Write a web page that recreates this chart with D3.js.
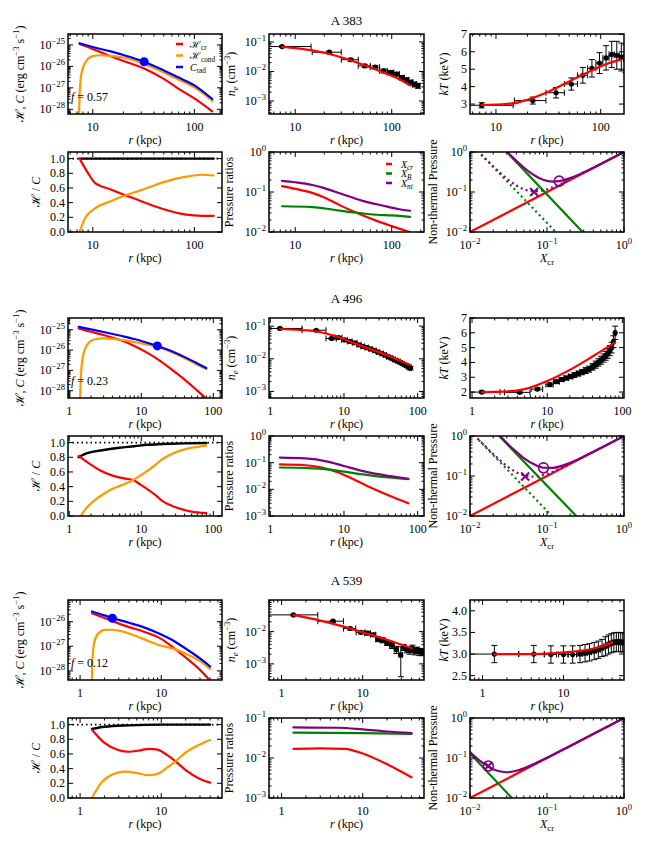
<!DOCTYPE html>
<html><head><meta charset="utf-8">
<script src="https://cdn.jsdelivr.net/npm/d3@7"></script>
<style>body{margin:0;background:#fff}svg{display:block}text{font-family:"Liberation Serif","DejaVu Serif",serif;fill:#000}</style>
</head><body><svg id="c" width="650" height="850"></svg>
<script>
// ===================== DATA =====================
const titles = ["A 383", "A 496", "A 539"];
const fValues = ["0.57", "0.23", "0.12"];

// ---- A 383 ----
const a383_rad_r = [7.4, 10, 15, 20, 32, 50, 70, 100, 150];
const a383_rad = [1.2e-25, 8e-26, 5e-26, 3.4e-26, 1.65e-26, 6.5e-27, 3e-27, 1.3e-27, 3e-28];
const a383_cr_r = [7.4, 10, 15, 20, 32, 50, 70, 100, 150];
const a383_cr = [1.1e-25, 6.5e-26, 3e-26, 1.8e-26, 8e-27, 2.6e-27, 9e-28, 3.2e-28, 8e-29];
const a383_cond_r = [7.25, 7.4, 7.7, 8.5, 10, 12, 15, 20, 32, 50, 70, 100, 150];
const a383_cond = [1e-29, 4e-28, 4e-27, 1.6e-26, 3e-26, 3.3e-26, 3.1e-26, 2.6e-26, 1.3e-26, 5.2e-27, 2.4e-27, 1.05e-27, 2.5e-28];
const a383_dot = [32, 1.65e-26];
const a383_ne_r = [7.3, 22.5, 37.5, 52.5, 67.5, 82.5, 97.5, 112.5, 127.5, 142.5, 157.5, 172.5, 187.5];
const a383_ne = [0.07, 0.045, 0.025, 0.0155, 0.014, 0.0105, 0.0093, 0.0082, 0.0062, 0.0052, 0.0043, 0.0037, 0.0033];
const a383_ne_xerr = [7.3, 7.5, 7.5, 7.5, 7.5, 7.5, 7.5, 7.5, 7.5, 7.5, 7.5, 7.5, 7.5];
const a383_ne_yerr = [0.004, 0.004, 0.003, 0.002, 0.002, 0.0015, 0.0015, 0.0012, 0.001, 0.0009, 0.0008, 0.0007, 0.0006];
const a383_nefit_r = [7.3, 10, 15, 22, 35, 50, 80, 120, 155];
const a383_nefit = [0.068, 0.062, 0.052, 0.04, 0.026, 0.017, 0.0095, 0.0055, 0.0034];
const a383_kt_r = [7.3, 22.5, 37.5, 52.5, 67.5, 82.5, 97.5, 112.5, 127.5, 142.5, 157.5, 172.5, 187.5];
const a383_kt = [2.93, 3.2, 3.65, 4.15, 4.65, 5.05, 5.35, 5.65, 5.85, 5.8, 5.7, 5.6, 5.5];
const a383_kt_xerr = [7.3, 7.5, 7.5, 7.5, 7.5, 7.5, 7.5, 7.5, 7.5, 7.5, 7.5, 7.5, 7.5];
const a383_kt_yerr = [0.15, 0.2, 0.3, 0.35, 0.45, 0.5, 0.6, 0.7, 0.75, 0.8, 0.8, 0.8, 0.7];
const a383_ktfit_r = [7.3, 10, 15, 20, 30, 50, 80, 120, 155];
const a383_ktfit = [2.95, 2.97, 3.05, 3.25, 3.65, 4.3, 4.9, 5.35, 5.55];
const a383_hc_tot_r = [7.4, 155];
const a383_hc_tot = [1.0, 1.0];
const a383_hc_cr_r = [7.4, 9, 10.5, 15, 21, 30, 50, 80, 120, 155];
const a383_hc_cr = [1.0, 0.8, 0.67, 0.58, 0.5, 0.42, 0.31, 0.24, 0.22, 0.22];
const a383_hc_cond_r = [7.4, 8.5, 10, 15, 21, 30, 50, 80, 120, 155];
const a383_hc_cond = [0.0, 0.2, 0.3, 0.42, 0.5, 0.57, 0.68, 0.75, 0.78, 0.77];
const a383_pnt_r = [7.3, 10, 15, 20, 30, 50, 80, 120, 155];
const a383_pnt = [0.19, 0.175, 0.15, 0.125, 0.09, 0.06, 0.046, 0.037, 0.034];
const a383_pcr_r = [7.3, 10, 15, 20, 30, 45, 70, 100, 155];
const a383_pcr = [0.14, 0.12, 0.095, 0.073, 0.045, 0.029, 0.019, 0.014, 0.0098];
const a383_pb_r = [7.3, 15, 25, 40, 70, 100, 155];
const a383_pb = [0.044, 0.042, 0.036, 0.031, 0.027, 0.026, 0.024];
const a383_nt_B_x = [0.03, 0.29];
const a383_nt_B = [1.0, 0.01];
const a383_nt_tot_x = [0.031, 0.035, 0.04, 0.05, 0.06, 0.07, 0.08, 0.1, 0.12, 0.15, 0.2, 0.3, 0.5, 1.0];
const a383_nt_tot = [0.967, 0.77, 0.6, 0.41, 0.31, 0.254, 0.22, 0.19, 0.1825, 0.19, 0.2225, 0.31, 0.5036, 1.0];
const a383_ntd_B_x = [0.014, 0.13];
const a383_ntd_B = [0.86, 0.01];
const a383_ntd_tot_x = [0.014, 0.02, 0.03, 0.04, 0.05, 0.06, 0.07, 0.08, 0.1, 0.15, 0.2];
const a383_ntd_tot = [0.87, 0.44, 0.217, 0.145, 0.117, 0.107, 0.104, 0.106, 0.117, 0.157, 0.204];
const a383_cross = [0.068, 0.1];
const a383_circle = [0.144, 0.187];

// ---- A 496 ----
const a496_rad_r = [1.35, 2, 3, 5, 8, 12, 16.7, 25, 40, 60, 80];
const a496_rad = [1.4e-25, 1.05e-25, 7.8e-26, 5.2e-26, 3.5e-26, 2.3e-26, 1.6e-26, 9.5e-27, 4.5e-27, 2.2e-27, 1.3e-27];
const a496_cr_r = [1.35, 2, 3, 5, 8, 12, 17, 25, 40, 60, 80];
const a496_cr = [1.15e-25, 8e-26, 5.5e-26, 3.2e-26, 1.6e-26, 7.5e-27, 3.5e-27, 1.3e-27, 3.5e-28, 1e-28, 4e-29];
const a496_cond_r = [1.4, 1.45, 1.55, 1.8, 2.2, 3, 4, 6, 10, 16.7, 25, 40, 60, 80];
const a496_cond = [1e-29, 5e-28, 5e-27, 2e-26, 3.3e-26, 3.8e-26, 3.6e-26, 3e-26, 2.1e-26, 1.45e-26, 8.5e-27, 4e-27, 1.9e-27, 1.15e-27];
const a496_dot = [16.7, 1.6e-26];
const a496_ne_r = [1.35, 4.2, 6.8, 8.5, 10.2, 12, 14, 16, 18, 20.5, 23, 26, 29, 32.5, 36, 40, 44, 48, 52, 56, 60, 64, 68, 72, 76, 80];
const a496_ne = [0.085, 0.075, 0.042, 0.045, 0.038, 0.034, 0.031, 0.027, 0.024, 0.022, 0.02, 0.018, 0.016, 0.0145, 0.013, 0.0115, 0.0105, 0.0095, 0.0088, 0.0082, 0.0075, 0.007, 0.0064, 0.006, 0.0055, 0.0052];
const a496_ne_xerr = [1.35, 1.5, 1.1, 0.9, 0.9, 0.9, 1, 1, 1, 1.2, 1.2, 1.4, 1.5, 1.7, 1.8, 2, 2, 2, 2, 2, 2, 2, 2, 2, 2, 2];
const a496_ne_yerr = [0.004, 0.004, 0.003, 0.003, 0.0025, 0.002, 0.002, 0.0018, 0.0016, 0.0015, 0.0014, 0.0013, 0.0012, 0.0011, 0.001, 0.0009, 0.0009, 0.0008, 0.0008, 0.0007, 0.0007, 0.0007, 0.0006, 0.0006, 0.0006, 0.0006];
const a496_nefit_r = [1.35, 4, 8, 12, 20, 30, 50, 80];
const a496_nefit = [0.082, 0.07, 0.048, 0.034, 0.022, 0.016, 0.01, 0.0065];
const a496_kt_r = [1.35, 4.3, 7.4, 10.8, 13.3, 15.6, 18, 20.5, 23, 26, 29, 32.5, 36, 40, 44, 48, 52, 56, 60, 64, 68, 72, 76, 80];
const a496_kt = [2.0, 1.98, 2.2, 2.5, 2.7, 2.85, 2.95, 3.05, 3.15, 3.25, 3.35, 3.45, 3.55, 3.7, 3.85, 4.0, 4.15, 4.3, 4.45, 4.6, 4.8, 5.0, 5.4, 6.0];
const a496_kt_xerr = [1.0, 1.6, 1.3, 1.2, 1.2, 1.2, 1.2, 1.3, 1.3, 1.5, 1.5, 1.7, 1.8, 2, 2, 2, 2, 2, 2, 2, 2, 2, 2, 2];
const a496_kt_yerr = [0.08, 0.08, 0.1, 0.12, 0.12, 0.13, 0.14, 0.15, 0.16, 0.17, 0.18, 0.2, 0.2, 0.22, 0.24, 0.25, 0.27, 0.28, 0.3, 0.32, 0.34, 0.36, 0.4, 0.45];
const a496_ktfit_r = [1.35, 3, 5, 10, 20, 40, 80];
const a496_ktfit = [2.0, 2.05, 2.2, 2.75, 3.5, 4.4, 5.35];
const a496_hc_tot_r = [1.35, 1.6, 2, 3, 5, 8, 12, 20, 40, 80];
const a496_hc_tot = [0.8, 0.84, 0.87, 0.9, 0.93, 0.95, 0.97, 0.98, 0.99, 0.995];
const a496_hc_cr_r = [1.35, 2, 2.7, 4, 6, 7.7, 10, 15, 20, 30, 50, 80];
const a496_hc_cr = [0.82, 0.7, 0.62, 0.55, 0.51, 0.49, 0.42, 0.3, 0.2, 0.12, 0.06, 0.04];
const a496_hc_cond_r = [1.45, 1.7, 2, 3, 4, 6, 7.7, 10, 15, 20, 30, 50, 80];
const a496_hc_cond = [0.0, 0.1, 0.17, 0.3, 0.37, 0.44, 0.49, 0.56, 0.68, 0.78, 0.87, 0.93, 0.96];
const a496_pnt_r = [1.35, 3, 6, 10, 20, 40, 75];
const a496_pnt = [0.155, 0.145, 0.11, 0.075, 0.045, 0.032, 0.025];
const a496_pcr_r = [1.35, 3, 5, 8, 12, 20, 40, 75];
const a496_pcr = [0.086, 0.08, 0.065, 0.045, 0.028, 0.014, 0.006, 0.003];
const a496_pb_r = [1.35, 3, 6, 10, 20, 40, 75];
const a496_pb = [0.066, 0.063, 0.056, 0.046, 0.035, 0.028, 0.024];
const a496_nt_B_x = [0.0245, 0.24];
const a496_nt_B = [0.96, 0.01];
const a496_nt_tot_x = [0.0245, 0.03, 0.04, 0.05, 0.07, 0.09, 0.12, 0.15, 0.2, 0.3, 0.5, 1.0];
const a496_nt_tot = [1.0, 0.67, 0.4, 0.28, 0.19, 0.161, 0.16, 0.176, 0.214, 0.306, 0.502, 1.0];
const a496_ntd_B_x = [0.013, 0.116];
const a496_ntd_B = [0.79, 0.01];
const a496_ntd_tot_x = [0.0125, 0.015, 0.02, 0.03, 0.04, 0.05, 0.065, 0.08, 0.1, 0.15, 0.2];
const a496_ntd_tot = [0.87, 0.61, 0.355, 0.179, 0.124, 0.104, 0.097, 0.101, 0.113, 0.156, 0.203];
const a496_cross = [0.052, 0.097];
const a496_circle = [0.09, 0.16];

// ---- A 539 ----
const a539_rad_r = [1.4, 2, 2.5, 4, 6, 10, 15, 20, 30, 40];
const a539_rad = [2.6e-26, 1.8e-26, 1.4e-26, 9e-27, 6e-27, 3e-27, 1.5e-27, 8e-28, 3.2e-28, 1.5e-28];
const a539_cr_r = [1.4, 2, 2.5, 4, 6, 10, 15, 20, 30, 40];
const a539_cr = [2.2e-26, 1.4e-26, 1.05e-26, 6e-27, 4e-27, 2e-27, 7.5e-28, 3.5e-28, 1.1e-28, 4e-29];
const a539_cond_r = [1.38, 1.42, 1.5, 1.7, 2, 2.5, 3, 4, 6, 9, 15, 20, 30, 40];
const a539_cond = [1e-30, 3e-28, 1.5e-27, 3.5e-27, 4.6e-27, 4.7e-27, 4.3e-27, 3.3e-27, 2e-27, 1.15e-27, 7.5e-28, 5e-28, 2.5e-28, 1.2e-28];
const a539_dot = [2.5, 1.37e-26];
const a539_ne_r = [1.4, 4.3, 7, 9.5, 11.5, 13.5, 15.5, 17.5, 20, 23, 26, 29.5, 32, 35, 38, 41, 44, 47, 50, 54];
const a539_ne = [0.033, 0.021, 0.0125, 0.0095, 0.009, 0.008, 0.0058, 0.0055, 0.0045, 0.0038, 0.0028, 0.0019, 0.0033, 0.0028, 0.0027, 0.003, 0.0025, 0.0027, 0.0024, 0.0023];
const a539_ne_xerr = [1.4, 1.5, 1.2, 1.2, 1, 1, 1, 1, 1.2, 1.5, 1.5, 1.5, 1.5, 1.5, 1.5, 1.5, 1.5, 1.5, 1.5, 1.5];
const a539_ne_yerr = [0.002, 0.0015, 0.0012, 0.001, 0.0012, 0.001, 0.0009, 0.001, 0.0008, 0.0008, 0.0007, 0.0015, 0.0007, 0.0006, 0.0007, 0.0008, 0.0006, 0.0006, 0.0006, 0.0005];
const a539_nefit_r = [1.4, 3, 6, 10, 20, 40];
const a539_nefit = [0.033, 0.022, 0.014, 0.0095, 0.0056, 0.0031];
const a539_kt_r = [1.4, 4.3, 7, 10, 13, 16, 18.5, 21, 24, 27, 30, 33, 36, 39, 42, 45, 48, 51, 54];
const a539_kt = [3.0, 3.0, 2.99, 2.99, 2.99, 3.0, 3.02, 3.04, 3.07, 3.1, 3.14, 3.18, 3.22, 3.25, 3.27, 3.28, 3.28, 3.27, 3.27];
const a539_kt_xerr = [1.4, 1.5, 1.2, 1.3, 1.5, 1.3, 1.2, 1.3, 1.5, 1.5, 1.5, 1.5, 1.5, 1.5, 1.5, 1.5, 1.5, 1.5, 1.5];
const a539_kt_yerr = [0.2, 0.2, 0.2, 0.2, 0.2, 0.2, 0.2, 0.2, 0.2, 0.2, 0.2, 0.22, 0.22, 0.22, 0.22, 0.22, 0.22, 0.22, 0.22];
const a539_ktfit_r = [1.4, 4, 8, 12, 20, 30, 40];
const a539_ktfit = [3.0, 3.0, 3.02, 3.05, 3.1, 3.18, 3.27];
const a539_hc_tot_r = [1.4, 2, 4, 10, 40];
const a539_hc_tot = [0.94, 0.97, 0.99, 1.0, 1.0];
const a539_hc_cr_r = [1.4, 2, 3, 4, 5.5, 7, 9, 12, 15, 20, 30, 40];
const a539_hc_cr = [0.93, 0.75, 0.65, 0.63, 0.65, 0.67, 0.66, 0.58, 0.5, 0.38, 0.26, 0.21];
const a539_hc_cond_r = [1.4, 1.8, 2.5, 3.5, 5, 7, 9, 12, 15, 20, 30, 40];
const a539_hc_cond = [0.0, 0.2, 0.32, 0.36, 0.34, 0.31, 0.33, 0.42, 0.5, 0.62, 0.73, 0.79];
const a539_pnt_r = [1.4, 5, 10, 20, 40];
const a539_pnt = [0.058, 0.057, 0.052, 0.046, 0.042];
const a539_pcr_r = [1.4, 3, 6, 10, 20, 40];
const a539_pcr = [0.017, 0.0175, 0.017, 0.013, 0.007, 0.0033];
const a539_pb_r = [1.4, 10, 40];
const a539_pb = [0.043, 0.042, 0.04];
const a539_nt_B_x = [0.01, 0.035];
const a539_nt_B = [0.13, 0.01];
const a539_nt_tot_x = [0.01, 0.0125, 0.015, 0.02, 0.025, 0.03, 0.04, 0.05, 0.07, 0.1, 0.2, 1.0];
const a539_nt_tot = [0.14, 0.095, 0.073, 0.0525, 0.046, 0.044, 0.048, 0.055, 0.073, 0.1013, 0.2, 1.0];
const a539_ntd_B_x = [];
const a539_ntd_B = [];
const a539_ntd_tot_x = [];
const a539_ntd_tot = [];
const a539_cross = [0.0173, 0.063];
const a539_circle = [0.0173, 0.063];

// shared
const nt_cr_x = [0.01, 1.0];
const nt_cr = [0.01, 1.0];

// axis domains
const col1_xd = [[5.7, 187], [0.96, 132], [0.71, 56]];
const col1_yd = [[Math.pow(10,-28.22), Math.pow(10,-24.49)], [Math.pow(10,-28.36), Math.pow(10,-24.42)], [Math.pow(10,-28.37), Math.pow(10,-25.12)]];
const col2_xd = [[5.35, 216], [0.96, 122], [0.70, 57]];
const ne_yd = [[Math.pow(10,-3.44), Math.pow(10,-0.73)], [Math.pow(10,-3.2), Math.pow(10,-0.75)], [Math.pow(10,-3.5), Math.pow(10,-1.02)]];
const col3_xd = [[5.65, 167], [0.94, 105], [0.70, 56]];
const kt_yd = [[2.43, 7.02], [1.6, 7.0], [2.4, 4.25]];
const kt_ticks = [[3, 4, 5, 6, 7], [2, 3, 4, 5, 6, 7], [2.5, 3.0, 3.5, 4.0]];
const hc_yd = [0, 1.09];
const hc_ticks = [0.0, 0.2, 0.4, 0.6, 0.8, 1.0];
const pr_yd = [[1e-2, 1], [1e-3, 1], [1e-3, 1e-1]];
const nt_d = [1e-2, 1];

// ===================== DRAWING =====================
const RED = "#ff0000", ORANGE = "#ff9900", BLUE = "#0000ff", GREEN = "#008000", PURPLE = "#800080";
const COLS = [[68, 222], [269, 424], [470, 624]];
const TOPS = [34, 318, 600];
const TITLE_Y = [25, 303, 585];
const PH = 80, GAP2 = 118;
const svg = d3.select('#c');
const defs = svg.append('defs');
let cid = 0;

function logTicks(dom) {
  const a = dom[0], b = dom[1];
  const lo = Math.floor(Math.log10(a)), hi = Math.ceil(Math.log10(b));
  const maj = [], min = [];
  for (let e = lo; e <= hi; e++) for (let k = 1; k < 10; k++) {
    const v = k * Math.pow(10, e);
    if (v < a * 0.9999 || v > b * 1.0001) continue;
    (k === 1 ? maj : min).push(v);
  }
  return { maj, min };
}
function rich(sel, parts, fs) {
  let shift = 0;
  parts.forEach(p => {
    const ts = sel.append('tspan').text(p.t);
    const target = p.sup ? -0.42 * fs : p.sub ? 0.28 * fs : 0;
    if (target !== shift) { ts.attr('dy', target - shift); shift = target; }
    if (p.sup || p.sub) ts.attr('font-size', fs * 0.72);
    if (p.it) ts.attr('font-style', 'italic');
  });
}
const TF = 12;
const fmtPlain = (t, v) => t.text(String(Math.round(v)));
const fmtPow = (t, v) => { const e = Math.round(Math.log10(v)); rich(t, [{ t: '10' }, { t: e < 0 ? '\u2212' + (-e) : String(e), sup: true }], TF); };
const fmtFix1 = (t, v) => t.text(v.toFixed(1));
const fmtInt = (t, v) => t.text(String(v));

function panel(col, top, o) {
  const x0 = COLS[col][0], x1 = COLS[col][1], y0 = top, y1 = top + PH;
  const xs = (o.xlog ? d3.scaleLog() : d3.scaleLinear()).domain(o.xd).range([x0, x1]);
  const ys = (o.ylog ? d3.scaleLog() : d3.scaleLinear()).domain(o.yd).range([y1, y0]);
  const id = 'cp' + (cid++);
  defs.append('clipPath').attr('id', id).append('rect').attr('x', x0).attr('y', y0).attr('width', x1 - x0).attr('height', y1 - y0);
  const g = svg.append('g');
  const plot = g.append('g').attr('clip-path', `url(#${id})`);
  const ax = g.append('g');
  const xt = o.xlog ? logTicks(o.xd) : { maj: o.xticks, min: [] };
  const yt = o.ylog ? logTicks(o.yd) : { maj: o.yticks, min: [] };
  const tk = ax.append('g').attr('stroke', '#000').attr('stroke-width', 1);
  const M = 5, m = 2.5;
  [[xt.maj, M], [xt.min, m]].forEach(([arr, L]) => arr.forEach(v => {
    const x = xs(v);
    tk.append('line').attr('x1', x).attr('x2', x).attr('y1', y1).attr('y2', y1 - L);
    tk.append('line').attr('x1', x).attr('x2', x).attr('y1', y0).attr('y2', y0 + L);
  }));
  [[yt.maj, M], [yt.min, m]].forEach(([arr, L]) => arr.forEach(v => {
    const y = ys(v);
    tk.append('line').attr('x1', x0).attr('x2', x0 + L).attr('y1', y).attr('y2', y);
    tk.append('line').attr('x1', x1).attr('x2', x1 - L).attr('y1', y).attr('y2', y);
  }));
  ax.append('rect').attr('x', x0).attr('y', y0).attr('width', x1 - x0).attr('height', y1 - y0)
    .attr('fill', 'none').attr('stroke', '#000').attr('stroke-width', 1.5);
  xt.maj.forEach(v => { const t = ax.append('text').attr('x', xs(v)).attr('y', y1 + 17).attr('text-anchor', 'middle').attr('font-size', TF); o.xfmt(t, v); });
  yt.maj.forEach(v => { const t = ax.append('text').attr('x', x0 - 3).attr('y', ys(v) + 4).attr('text-anchor', 'end').attr('font-size', TF); o.yfmt(t, v); });
  return { xs, ys, plot, ax, x0, x1, y0, y1 };
}
function curve(p, xa, ya, color, w, dash) {
  if (!xa.length) return;
  const pts = xa.map((x, i) => [p.xs(x), p.ys(ya[i])]);
  p.plot.append('path').attr('d', d3.line().curve(d3.curveMonotoneX)(pts))
    .attr('fill', 'none').attr('stroke', color).attr('stroke-width', w || 2.2)
    .attr('stroke-dasharray', dash || null).attr('stroke-linecap', dash ? 'butt' : 'round');
}
function errbars(p, r, v, xe, ye) {
  const g = p.plot.append('g').attr('stroke', '#000').attr('stroke-width', 1);
  const cap = 3;
  r.forEach((ri, i) => {
    const cx = p.xs(ri), cy = p.ys(v[i]);
    const lo = ri - xe[i];
    const xl = lo > 0 ? p.xs(lo) : p.x0 - 10, xr = p.xs(ri + xe[i]);
    g.append('line').attr('x1', xl).attr('x2', xr).attr('y1', cy).attr('y2', cy);
    if (lo > 0) g.append('line').attr('x1', xl).attr('x2', xl).attr('y1', cy - cap).attr('y2', cy + cap);
    g.append('line').attr('x1', xr).attr('x2', xr).attr('y1', cy - cap).attr('y2', cy + cap);
    const yl = p.ys(v[i] - ye[i]), yh = p.ys(v[i] + ye[i]);
    g.append('line').attr('x1', cx).attr('x2', cx).attr('y1', yl).attr('y2', yh);
    g.append('line').attr('x1', cx - cap).attr('x2', cx + cap).attr('y1', yl).attr('y2', yl);
    g.append('line').attr('x1', cx - cap).attr('x2', cx + cap).attr('y1', yh).attr('y2', yh);
  });
  p.plot.append('g').selectAll('circle').data(r).join('circle')
    .attr('cx', d => p.xs(d)).attr('cy', (d, i) => p.ys(v[i])).attr('r', 2.6).attr('fill', '#000');
}
function ylabel(x, yc, parts, fs) {
  const t = svg.append('text').attr('transform', `translate(${x},${yc}) rotate(-90)`).attr('text-anchor', 'middle').attr('font-size', fs || 12);
  rich(t, parts, fs || 12);
}
function xlabel(xc, y, parts, fs) {
  const t = svg.append('text').attr('x', xc).attr('y', y).attr('text-anchor', 'middle').attr('font-size', fs || 12);
  rich(t, parts, fs || 12);
}
const RKPC = [{ t: 'r', it: true }, { t: '  (kpc)' }];

const sections = [
  { rad_r: a383_rad_r, rad: a383_rad, cr_r: a383_cr_r, cr: a383_cr, cond_r: a383_cond_r, cond: a383_cond, dot: a383_dot,
    ne_r: a383_ne_r, ne: a383_ne, ne_xe: a383_ne_xerr, ne_ye: a383_ne_yerr, nefit_r: a383_nefit_r, nefit: a383_nefit,
    kt_r: a383_kt_r, kt: a383_kt, kt_xe: a383_kt_xerr, kt_ye: a383_kt_yerr, ktfit_r: a383_ktfit_r, ktfit: a383_ktfit,
    hct_r: a383_hc_tot_r, hct: a383_hc_tot, hcc_r: a383_hc_cr_r, hcc: a383_hc_cr, hcd_r: a383_hc_cond_r, hcd: a383_hc_cond,
    pnt_r: a383_pnt_r, pnt: a383_pnt, pcr_r: a383_pcr_r, pcr: a383_pcr, pb_r: a383_pb_r, pb: a383_pb,
    ntB_x: a383_nt_B_x, ntB: a383_nt_B, ntT_x: a383_nt_tot_x, ntT: a383_nt_tot, ndB_x: a383_ntd_B_x, ndB: a383_ntd_B,
    ndT_x: a383_ntd_tot_x, ndT: a383_ntd_tot, cross: a383_cross, circ: a383_circle },
  { rad_r: a496_rad_r, rad: a496_rad, cr_r: a496_cr_r, cr: a496_cr, cond_r: a496_cond_r, cond: a496_cond, dot: a496_dot,
    ne_r: a496_ne_r, ne: a496_ne, ne_xe: a496_ne_xerr, ne_ye: a496_ne_yerr, nefit_r: a496_nefit_r, nefit: a496_nefit,
    kt_r: a496_kt_r, kt: a496_kt, kt_xe: a496_kt_xerr, kt_ye: a496_kt_yerr, ktfit_r: a496_ktfit_r, ktfit: a496_ktfit,
    hct_r: a496_hc_tot_r, hct: a496_hc_tot, hcc_r: a496_hc_cr_r, hcc: a496_hc_cr, hcd_r: a496_hc_cond_r, hcd: a496_hc_cond,
    pnt_r: a496_pnt_r, pnt: a496_pnt, pcr_r: a496_pcr_r, pcr: a496_pcr, pb_r: a496_pb_r, pb: a496_pb,
    ntB_x: a496_nt_B_x, ntB: a496_nt_B, ntT_x: a496_nt_tot_x, ntT: a496_nt_tot, ndB_x: a496_ntd_B_x, ndB: a496_ntd_B,
    ndT_x: a496_ntd_tot_x, ndT: a496_ntd_tot, cross: a496_cross, circ: a496_circle },
  { rad_r: a539_rad_r, rad: a539_rad, cr_r: a539_cr_r, cr: a539_cr, cond_r: a539_cond_r, cond: a539_cond, dot: a539_dot,
    ne_r: a539_ne_r, ne: a539_ne, ne_xe: a539_ne_xerr, ne_ye: a539_ne_yerr, nefit_r: a539_nefit_r, nefit: a539_nefit,
    kt_r: a539_kt_r, kt: a539_kt, kt_xe: a539_kt_xerr, kt_ye: a539_kt_yerr, ktfit_r: a539_ktfit_r, ktfit: a539_ktfit,
    hct_r: a539_hc_tot_r, hct: a539_hc_tot, hcc_r: a539_hc_cr_r, hcc: a539_hc_cr, hcd_r: a539_hc_cond_r, hcd: a539_hc_cond,
    pnt_r: a539_pnt_r, pnt: a539_pnt, pcr_r: a539_pcr_r, pcr: a539_pcr, pb_r: a539_pb_r, pb: a539_pb,
    ntB_x: a539_nt_B_x, ntB: a539_nt_B, ntT_x: a539_nt_tot_x, ntT: a539_nt_tot, ndB_x: a539_ntd_B_x, ndB: a539_ntd_B,
    ndT_x: a539_ntd_tot_x, ndT: a539_ntd_tot, cross: a539_cross, circ: a539_circle }
];

sections.forEach((S, i) => {
  const top = TOPS[i], bot = top + GAP2;
  xlabel((COLS[1][0] + COLS[1][1]) / 2, TITLE_Y[i], [{ t: titles[i] }], 13);

  // --- heating / cooling ---
  const p1 = panel(0, top, { xlog: true, ylog: true, xd: col1_xd[i], yd: col1_yd[i], xfmt: fmtPlain, yfmt: fmtPow });
  curve(p1, S.cr_r, S.cr, RED);
  curve(p1, S.cond_r, S.cond, ORANGE);
  curve(p1, S.rad_r, S.rad, BLUE);
  p1.plot.append('circle').attr('cx', p1.xs(S.dot[0])).attr('cy', p1.ys(S.dot[1])).attr('r', 4.5).attr('fill', BLUE);
  const ft = svg.append('text').attr('x', p1.x0 + 3).attr('y', p1.y1 - 13).attr('font-size', 12);
  rich(ft, [{ t: 'f', it: true }, { t: ' = ' + fValues[i] }], 12);
  ylabel(24, top + PH / 2, [{ t: '\u210B, ' }, { t: 'C', it: true }, { t: ' (erg cm' }, { t: '\u22123', sup: true }, { t: ' s' }, { t: '\u22121', sup: true }, { t: ')' }], 12);
  xlabel((COLS[0][0] + COLS[0][1]) / 2, top + PH + 30, RKPC);

  // --- density ---
  const p2 = panel(1, top, { xlog: true, ylog: true, xd: col2_xd[i], yd: ne_yd[i], xfmt: fmtPlain, yfmt: fmtPow });
  errbars(p2, S.ne_r, S.ne, S.ne_xe, S.ne_ye);
  curve(p2, S.nefit_r, S.nefit, RED);
  ylabel(235, top + PH / 2, [{ t: 'n', it: true }, { t: 'e', sub: true, it: true }, { t: ' (cm' }, { t: '\u22123', sup: true }, { t: ')' }], 12);
  xlabel((COLS[1][0] + COLS[1][1]) / 2, top + PH + 30, RKPC);

  // --- temperature ---
  const p3 = panel(2, top, { xlog: true, ylog: false, xd: col3_xd[i], yd: kt_yd[i], yticks: kt_ticks[i], xfmt: fmtPlain, yfmt: i === 2 ? fmtFix1 : fmtInt });
  errbars(p3, S.kt_r, S.kt, S.kt_xe, S.kt_ye);
  curve(p3, S.ktfit_r, S.ktfit, RED);
  ylabel(448, top + PH / 2, [{ t: 'kT', it: true }, { t: ' (keV)' }], 12);
  xlabel((COLS[2][0] + COLS[2][1]) / 2, top + PH + 30, RKPC);

  // --- H/C ratio ---
  const p4 = panel(0, bot, { xlog: true, ylog: false, xd: col1_xd[i], yd: hc_yd, yticks: hc_ticks, xfmt: fmtPlain, yfmt: fmtFix1 });
  curve(p4, col1_xd[i], [1, 1], '#000', 1.8, '1.5,3');
  curve(p4, S.hct_r, S.hct, '#000', 2.4);
  curve(p4, S.hcc_r, S.hcc, RED);
  curve(p4, S.hcd_r, S.hcd, ORANGE);
  ylabel(40, bot + PH / 2, [{ t: '\u210B / ' }, { t: 'C', it: true }], 12);
  xlabel((COLS[0][0] + COLS[0][1]) / 2, bot + PH + 30, RKPC);

  // --- pressure ratios ---
  const p5 = panel(1, bot, { xlog: true, ylog: true, xd: col2_xd[i], yd: pr_yd[i], xfmt: fmtPlain, yfmt: fmtPow });
  curve(p5, S.pcr_r, S.pcr, RED);
  curve(p5, S.pb_r, S.pb, GREEN);
  curve(p5, S.pnt_r, S.pnt, PURPLE);
  ylabel(233, bot + PH / 2, [{ t: 'Pressure ratios' }], 12);
  xlabel((COLS[1][0] + COLS[1][1]) / 2, bot + PH + 30, RKPC);

  // --- non-thermal pressure ---
  const p6 = panel(2, bot, { xlog: true, ylog: true, xd: nt_d, yd: nt_d, xfmt: fmtPow, yfmt: fmtPow });
  curve(p6, nt_cr_x, nt_cr, RED);
  curve(p6, S.ndB_x, S.ndB, GREEN, 2.2, '2,3.2');
  curve(p6, S.ndT_x, S.ndT, PURPLE, 2.2, '2,3.2');
  curve(p6, S.ntB_x, S.ntB, GREEN);
  curve(p6, S.ntT_x, S.ntT, PURPLE);
  const cx = p6.xs(S.cross[0]), cy = p6.ys(S.cross[1]), s = 4;
  p6.plot.append('path').attr('d', `M${cx - s},${cy - s}L${cx + s},${cy + s}M${cx - s},${cy + s}L${cx + s},${cy - s}`)
    .attr('stroke', PURPLE).attr('stroke-width', 2).attr('fill', 'none');
  p6.plot.append('circle').attr('cx', p6.xs(S.circ[0])).attr('cy', p6.ys(S.circ[1])).attr('r', 5)
    .attr('fill', 'none').attr('stroke', PURPLE).attr('stroke-width', 1.6);
  ylabel(437, bot + PH / 2, [{ t: 'Non-thermal Pressure' }], 12);
  xlabel((COLS[2][0] + COLS[2][1]) / 2, bot + PH + 30, [{ t: 'X', it: true }, { t: 'cr', sub: true }]);
});

// ---- legends (first section only) ----
const legH = [
  { c: RED, parts: [{ t: '\u210B' }, { t: 'cr', sub: true }] },
  { c: ORANGE, parts: [{ t: '\u210B' }, { t: 'cond', sub: true }] },
  { c: BLUE, parts: [{ t: 'C', it: true }, { t: 'rad', sub: true }] }
];
legH.forEach((L, k) => {
  const y = 44 + k * 11.5;
  svg.append('line').attr('x1', 176).attr('x2', 183).attr('y1', y).attr('y2', y).attr('stroke', L.c).attr('stroke-width', 2.5);
  const t = svg.append('text').attr('x', 190).attr('y', y + 3.5).attr('font-size', 10);
  rich(t, L.parts, 10);
});
const legP = [
  { c: RED, parts: [{ t: 'X', it: true }, { t: 'cr', sub: true, it: true }] },
  { c: GREEN, parts: [{ t: 'X', it: true }, { t: 'B', sub: true, it: true }] },
  { c: PURPLE, parts: [{ t: 'X', it: true }, { t: 'nt', sub: true, it: true }] }
];
legP.forEach((L, k) => {
  const y = 164 + k * 9.5;
  svg.append('line').attr('x1', 386).attr('x2', 392).attr('y1', y).attr('y2', y).attr('stroke', L.c).attr('stroke-width', 2.5);
  const t = svg.append('text').attr('x', 401).attr('y', y + 3.5).attr('font-size', 10);
  rich(t, L.parts, 10);
});
</script></body></html>
